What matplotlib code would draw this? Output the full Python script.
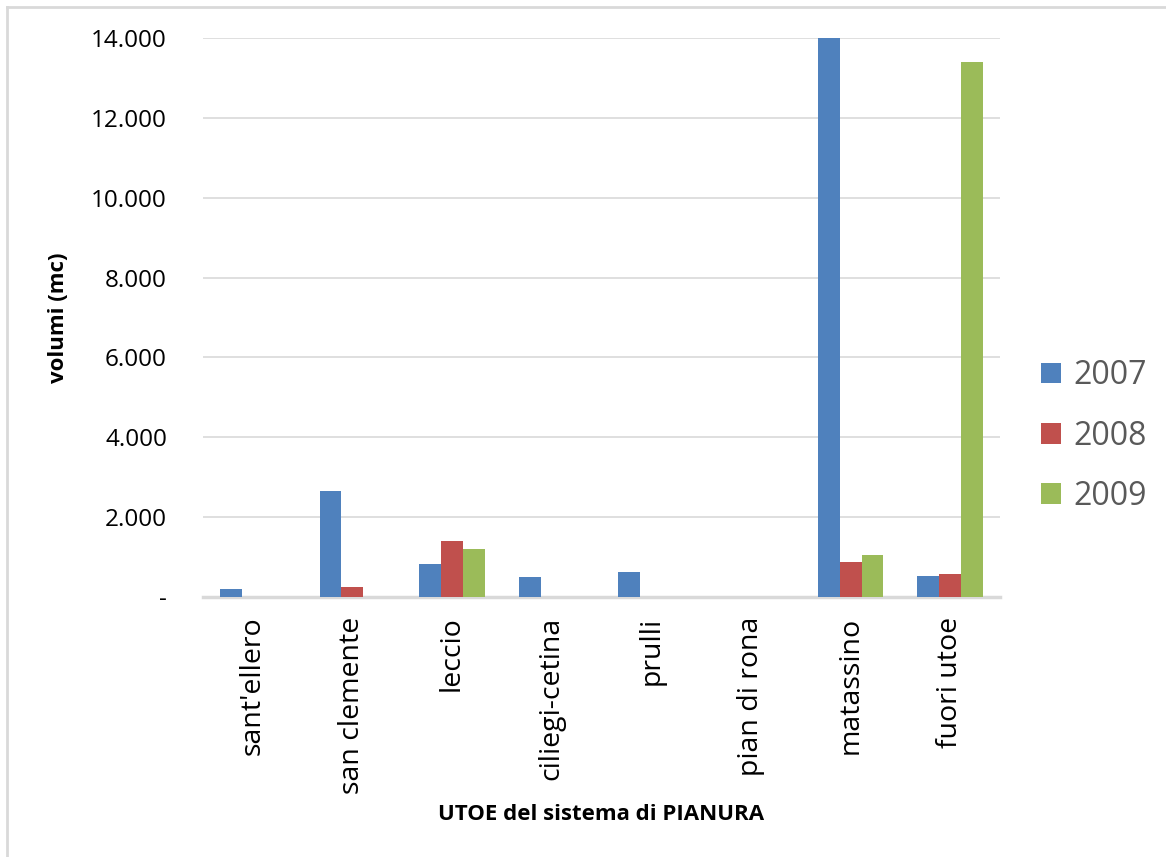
import matplotlib.pyplot as plt
import numpy as np
from matplotlib.lines import Line2D
from matplotlib.ticker import FuncFormatter

categories = ["sant'ellero", "san clemente", "leccio", "ciliegi-cetina",
              "prulli", "pian di rona", "matassino", "fuori utoe"]
years = ["2007", "2008", "2009"]
v2007 = [200, 2650, 825, 500, 625, 0, 14000, 525]
v2008 = [0, 250, 1400, 0, 0, 0, 875, 575]
v2009 = [0, 0, 1200, 0, 0, 0, 1050, 13400]
colors = ["#4F81BD", "#C0504D", "#9BBB59"]

plt.rcParams['font.family'] = ['Open Sans', 'DejaVu Sans']

W, H = 1166, 857
fig = plt.figure(figsize=(W / 100, H / 100), dpi=100)
ax = fig.add_axes([203 / W, 1 - 597 / H, 797 / W, 559 / H])

# chart-area border (only top and left edges fall inside the image)
fig.add_artist(Line2D([7 / W, 1.0], [1 - 7 / H, 1 - 7 / H],
                      transform=fig.transFigure, color='#D9D9D9', lw=2))
fig.add_artist(Line2D([7 / W, 7 / W], [1 - 7 / H, 0.0],
                      transform=fig.transFigure, color='#D9D9D9', lw=2))

x = np.arange(len(categories))
w = 0.22
for i, (vals, yr) in enumerate(zip([v2007, v2008, v2009], years)):
    ax.bar(x + (i - 1) * w, vals, w, color=colors[i], label=yr, zorder=3)

ax.set_xlim(-0.5, len(categories) - 0.5)
ax.set_ylim(0, 14000)
ax.set_yticks(np.arange(0, 14001, 2000))
ax.yaxis.set_major_formatter(FuncFormatter(
    lambda v, p: '-' if v == 0 else f"{int(v):,}".replace(',', '.')))
ax.grid(axis='y', color='#D9D9D9', linewidth=1.2, zorder=0)
for s in ['top', 'right', 'left']:
    ax.spines[s].set_visible(False)
ax.spines['bottom'].set_color('#D9D9D9')
ax.spines['bottom'].set_linewidth(2.5)
ax.tick_params(axis='both', length=0, colors='black')
ax.tick_params(axis='y', labelsize=17.5, pad=26)
ax.tick_params(axis='x', labelsize=20.5, pad=14)
ax.set_xticks(x)
ax.set_xticklabels(categories, rotation=90)

ax.set_ylabel('volumi (mc)', fontsize=16, fontweight='bold', va='center')
ax.yaxis.set_label_coords((58 - 203) / 797, 0.5)
ax.set_xlabel('UTOE del sistema di PIANURA', fontsize=16, fontweight='bold',
              va='center')
ax.xaxis.set_label_coords(0.5, (597 - 814) / 559)

leg = fig.legend(loc='center left', bbox_to_anchor=(1041 / W, 1 - 436 / H),
                 frameon=False, fontsize=23, handlelength=0.62,
                 handleheight=0.62, labelspacing=0.85, handletextpad=0.4,
                 borderpad=0, borderaxespad=0)
for t in leg.get_texts():
    t.set_color('#595959')

fig.savefig('out.png', dpi=100)
